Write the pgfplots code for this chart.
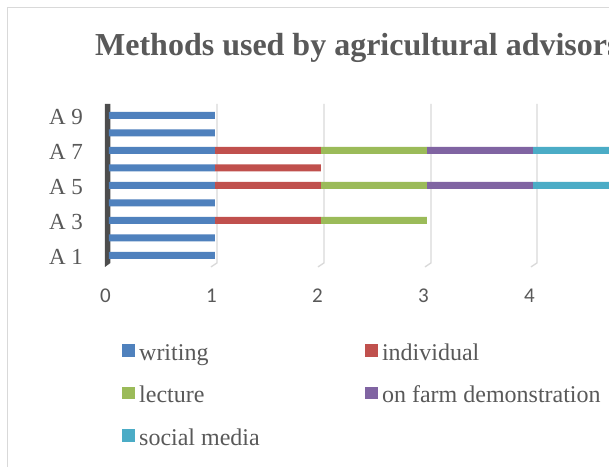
\documentclass[border=0pt]{standalone}
\usepackage{pgfplots}
\pgfplotsset{compat=1.18}
\usepackage{fontspec}
\setmainfont{Liberation Serif}
\newfontfamily\carlito{Carlito}
\definecolor{txt}{HTML}{595959}
\definecolor{gridc}{HTML}{D9D9D9}
\definecolor{wallc}{HTML}{4D4D4D}
\definecolor{cw}{HTML}{4F81BD}
\definecolor{ci}{HTML}{C0504D}
\definecolor{cl}{HTML}{9BBB59}
\definecolor{co}{HTML}{8064A2}
\definecolor{cs}{HTML}{4BACC6}
\begin{document}
\begin{tikzpicture}
\begin{scope}
\clip (0pt,0pt) rectangle (609pt,467pt);
\fill[white] (0pt,0pt) rectangle (609pt,467pt);
\draw[overlay, gridc, line width=1.5pt] (7.5pt,-20pt) rectangle (700pt,459.5pt);
\node[overlay, anchor=base west, inner sep=0pt, font=\bfseries\fontsize{32}{38}\selectfont, text=txt] at (95pt,411pt) {Methods used by agricultural advisors};
\end{scope}
% gridlines with 3D feet
\draw[gridc, line width=1.3pt] (217pt,363pt) -- (217pt,204pt) -- (211pt,200pt);
\draw[gridc, line width=1.3pt] (324pt,363pt) -- (324pt,204pt) -- (318pt,200pt);
\draw[gridc, line width=1.3pt] (431pt,363pt) -- (431pt,204pt) -- (425pt,200pt);
\draw[gridc, line width=1.3pt] (537pt,363pt) -- (537pt,204pt) -- (531pt,200pt);
% side wall
\fill[wallc] (105pt,200pt) -- (105pt,363pt) -- (110.5pt,363pt) -- (110.5pt,204pt) -- cycle;
\begin{axis}[
  at={(109pt,204pt)}, anchor=south west,
  x=106pt, y=17.5pt,
  xmin=0, xmax=4.717, ymin=0.571, ymax=9.657,
  xbar stacked, bar width=7pt,
  axis line style={draw=none},
  major tick length=0pt,
  xtick={0,1,2,3,4},
  ytick={1,3,5,7,9},
  yticklabels={A 1,A 3,A 5,A 7,A 9},
  /pgf/number format/assume math mode=true,
  xticklabel style={font=\carlito\fontsize{21}{25}\selectfont, text=txt, anchor=base, xshift=-3.5pt, yshift=-40pt},
  yticklabel style={font=\fontsize{23}{27}\selectfont, text=txt, anchor=base east, xshift=-22.5pt, yshift=-9.5pt},
  legend style={at={(0.0254,-0.503)}, anchor=north west, draw=none, fill=none, inner sep=0pt,
    font=\fontsize{24}{28}\selectfont, text=txt,
    nodes={inner sep=0pt, text height=17pt, text depth=5.5pt},
    /tikz/column 1/.append style={column sep=4.3pt},
    /tikz/column 2/.append style={column sep=105pt},
    /tikz/column 3/.append style={column sep=4.3pt},
    row sep=20pt},
  legend columns=2, legend cell align=left,
  legend image code/.code={\fill[#1,draw=none] (0pt,-2.5pt) rectangle (13pt,10pt);},
]
\addplot[fill=cw, draw=none] coordinates {(1,1) (1,2) (1,3) (1,4) (1,5) (1,6) (1,7) (1,8) (1,9)};
\addplot[fill=ci, draw=none] coordinates {(0,1) (0,2) (1,3) (0,4) (1,5) (1,6) (1,7) (0,8) (0,9)};
\addplot[fill=cl, draw=none] coordinates {(0,1) (0,2) (1,3) (0,4) (1,5) (0,6) (1,7) (0,8) (0,9)};
\addplot[fill=co, draw=none] coordinates {(0,1) (0,2) (0,3) (0,4) (1,5) (0,6) (1,7) (0,8) (0,9)};
\addplot[fill=cs, draw=none] coordinates {(0,1) (0,2) (0,3) (0,4) (1,5) (0,6) (1,7) (0,8) (0,9)};
\legend{writing, individual, lecture, on farm demonstration, social media}
\end{axis}
\end{tikzpicture}
\end{document}
